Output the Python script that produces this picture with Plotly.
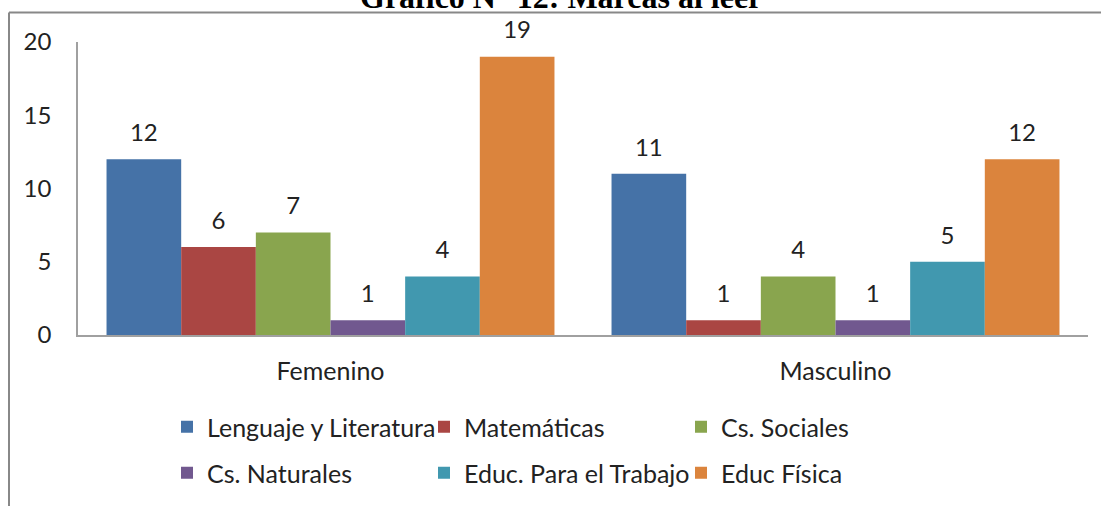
import plotly.graph_objects as go

categories = ["Femenino", "Masculino"]
series_names = ["Lenguaje y Literatura", "Matemáticas", "Cs. Sociales",
                "Cs. Naturales", "Educ. Para el Trabajo", "Educ Física"]
values = {
    "Lenguaje y Literatura": [12, 11],
    "Matemáticas": [6, 1],
    "Cs. Sociales": [7, 4],
    "Cs. Naturales": [1, 1],
    "Educ. Para el Trabajo": [4, 5],
    "Educ Física": [19, 12],
}
colors = ["#4572A7", "#AA4643", "#89A54E", "#71588F", "#4198AF", "#DB843D"]
y_ticks = [0, 5, 10, 15, 20]
title_text = "Gráfico N° 12: Marcas al leer"

FONT = "Lato"
FS = 24
FS_BIG = 25
W, H = 1101, 506
L, R, T, B = 78, 13, 42, 171
pw, ph = W - L - R, H - T - B


def px_x(p):
    return (p - L) / pw


def px_y(p):
    return (H - B - p) / ph


# legend layout (pixel positions of each item: left edge, center y)
legend_pos = [(167, 427), (424, 427), (681, 427),
              (167, 473), (424, 473), (681, 473)]

fig = go.Figure()
for i, name in enumerate(series_names):
    lg = "legend" if i == 0 else f"legend{i+1}"
    fig.add_trace(go.Bar(
        name=name, x=categories, y=values[name],
        marker=dict(color=colors[i], line=dict(width=0)),
        offsetgroup=str(i),
        legend=lg,
    ))
for i, name in enumerate(series_names):
    fig.add_trace(go.Scatter(
        x=categories, y=values[name], mode="markers+text",
        text=[str(v) for v in values[name]], textposition="top center",
        marker=dict(size=18, opacity=0),
        textfont=dict(family=FONT, size=FS, color="#222"),
        offsetgroup=str(i), showlegend=False, cliponaxis=False,
        hoverinfo="skip",
    ))

layout_legends = {}
for i, (lx, ly) in enumerate(legend_pos):
    key = "legend" if i == 0 else f"legend{i+1}"
    layout_legends[key] = dict(
        x=px_x(lx), y=px_y(ly), xanchor="left", yanchor="middle",
        orientation="h", bgcolor="rgba(0,0,0,0)",
        font=dict(family=FONT, size=FS_BIG, color="#222"),
        itemclick=False, itemdoubleclick=False,
    )

fig.update_layout(
    width=W, height=H,
    margin=dict(l=L, r=R, t=T, b=B, autoexpand=False),
    paper_bgcolor="white", plot_bgcolor="white",
    barmode="group", bargap=0.113, bargroupgap=0,
    scattermode="group", scattergap=0.113,
    showlegend=True,
    font=dict(family=FONT, size=FS, color="#222"),
    xaxis=dict(showline=True, linecolor="#A0A0A0", linewidth=1.5,
               ticks="", showgrid=False, ticklabelstandoff=13,
               tickfont=dict(family=FONT, size=FS_BIG, color="#222")),
    yaxis=dict(range=[0, 20], tickvals=y_ticks, showline=True,
               linecolor="#A0A0A0", linewidth=1.5, ticks="", showgrid=False,
               zeroline=False, ticklabelstandoff=20,
               tickfont=dict(family=FONT, size=FS, color="#222")),
    annotations=[dict(
        text="<b>" + title_text + "</b>", xref="paper", yref="paper",
        x=px_x(561), y=px_y(17), xanchor="center", yanchor="bottom",
        showarrow=False,
        font=dict(family="Liberation Serif", size=32, color="#000"))],
    shapes=[
        dict(type="line", xref="paper", yref="paper",
             x0=px_x(9), x1=px_x(1110), y0=px_y(12.5), y1=px_y(12.5),
             line=dict(color="#888", width=2)),
        dict(type="line", xref="paper", yref="paper",
             x0=px_x(9), x1=px_x(9), y0=px_y(12.5), y1=px_y(520),
             line=dict(color="#888", width=2)),
    ],
    **layout_legends,
)

fig.write_html("out.html",
               config={"displayModeBar": False},
               post_script="document.body.style.margin='0';"
                           "document.body.style.overflow='hidden';")
